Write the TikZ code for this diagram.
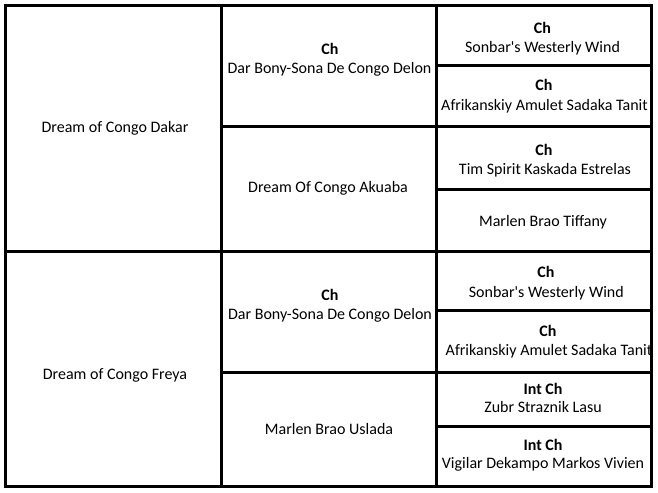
\documentclass[tikz,border=0pt]{standalone}
\usepackage{fontspec}
\setmainfont{Carlito}
\usetikzlibrary{positioning}

\tikzset{
  grid line/.style={line width=2.25pt},
  horse/.style={font=\fontsize{12}{14}\selectfont, anchor=base, inner sep=0pt},
  title/.style={horse, font=\fontsize{12}{14}\selectfont\bfseries},
}

\begin{document}
\begin{tikzpicture}[x=0.75pt, y=-0.75pt]

  % Page size (pixels of the table)
  \useasboundingbox (0,0) rectangle (658,493);

  % Column borders
  \def\xA{5.5}
  \def\xB{221}
  \def\xC{436.5}
  \def\xD{651.5}

  % Row borders
  \def\yT{5.5}
  \def\yM{251}
  \def\yB{486}

  % Outer box and column lines
  \draw[grid line] (\xA,\yT) rectangle (\xD,\yB);
  \draw[grid line] (\xB,\yT) -- (\xB,\yB);
  \draw[grid line] (\xC,\yT) -- (\xC,\yB);

  % Sire / dam split
  \draw[grid line] (\xA,\yM) -- (\xD,\yM);

  % Grandparents
  \foreach \y in {126.5, 372.5}
    \draw[grid line] (\xB,\y) -- (\xD,\y);

  % Great-grandparents
  \foreach \y in {65.5, 189.5, 310.5, 426}
    \draw[grid line] (\xC,\y) -- (\xD,\y);

  % Parents
  \node[horse] (sire) at (115,132.5) {Dream of Congo Dakar};
  \node[horse] (dam)  at (115,379)   {Dream of Congo Freya};

  % Grandparents
  \node[title] (ssT) at (330,54.3)  {Ch};
  \node[horse] (ss)  at (329.5,73.5) {Dar Bony-Sona De Congo Delon};
  \node[horse] (sd)  at (328,192)   {Dream Of Congo Akuaba};
  \node[title] (dsT) at (330,300)   {Ch};
  \node[horse] (ds)  at (330,319.5) {Dar Bony-Sona De Congo Delon};
  \node[horse] (dd)  at (329,434.3) {Marlen Brao Uslada};

  % Great-grandparents, sire side
  \node[title] (sssT) at (542.5,33.3) {Ch};
  \node[horse] (sss)  at (542.5,52.7) {Sonbar\textquotesingle s Westerly Wind};
  \node[title] (ssdT) at (544,90.7)   {Ch};
  \node[horse] (ssd)  at (544.5,110)  {Afrikanskiy Amulet Sadaka Tanit};
  \node[title] (sdsT) at (544,155)    {Ch};
  \node[horse] (sds)  at (545,174)    {Tim Spirit Kaskada Estrelas};
  \node[horse] (sdd)  at (543,226)    {Marlen Brao Tiffany};

  % Great-grandparents, dam side
  \node[title] (dssT) at (546,277.7)   {Ch};
  \node[horse] (dss)  at (546.3,297.3) {Sonbar\textquotesingle s Westerly Wind};
  \node[title] (dsdT) at (548,336)     {Ch};
  \node[horse] (dsd)  at (549,355)     {Afrikanskiy Amulet Sadaka Tanit};
  \node[title] (ddsT) at (543,394)     {Int Ch};
  \node[horse] (dds)  at (543,412.3)   {Zubr Straznik Lasu};
  \node[title] (dddT) at (543,450)     {Int Ch};
  \node[horse] (ddd)  at (543,468.3)   {Vigilar Dekampo Markos Vivien};

  % Right border over the clipped text
  \draw[grid line] (\xD,\yT) -- (\xD,\yB);

\end{tikzpicture}
\end{document}
